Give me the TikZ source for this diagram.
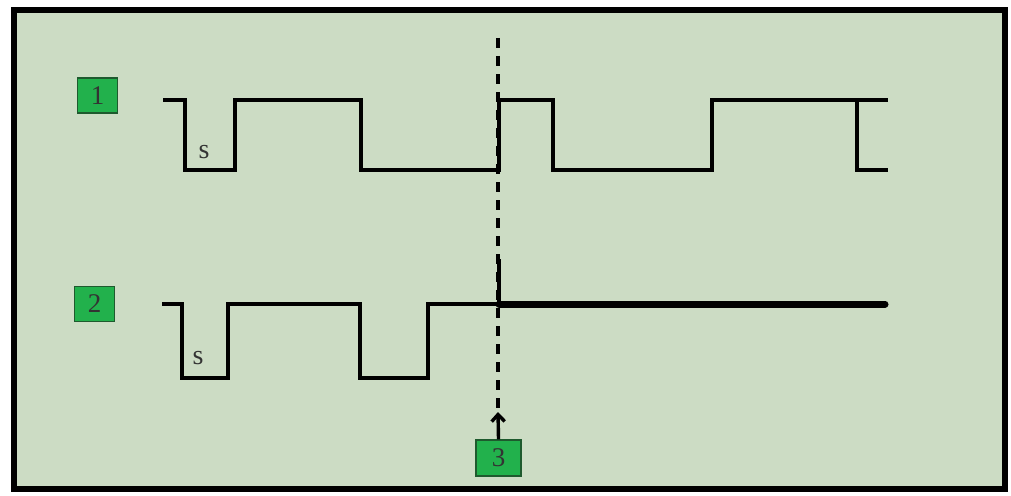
\documentclass[tikz,border=0pt]{standalone}
\usepackage{fontspec}
\setmainfont{Liberation Serif}
\usetikzlibrary{arrows.meta}
\definecolor{bg}{HTML}{CCDCC4}
\definecolor{boxgreen}{HTML}{22B14C}
\definecolor{boxedge}{HTML}{1E5A2E}
\tikzset{
  wave/.style={line width=3.4pt, line join=miter},
  label box/.style={draw=boxedge, line width=1.4pt, fill=boxgreen, minimum width=40pt, minimum height=35pt, inner sep=0pt, font=\fontsize{27}{27}\selectfont, text=black!80},
  slabel/.style={font=\fontsize{28}{28}\selectfont, inner sep=0pt, text=black!80},
  dashline/.style={line width=3.2pt, dash pattern=on 10pt off 8pt},
}
\begin{document}
\begin{tikzpicture}[x=1pt,y=-1pt]
\useasboundingbox (0,0) rectangle (1011,495);
\fill[white] (0,0) rectangle (1011,495);
\draw[line width=5.5pt, fill=bg] (14,10) rectangle (1005,489);
% labels
\node[label box] (b1) at (97.5,95.5) {1};
\node[label box] (b2) at (94.5,304) {2};
\node[label box, minimum width=45pt, minimum height=36pt] (b3) at (498.5,458) {3};
% dashed marker
\coordinate (dtop) at (498,38);
\coordinate (dbot) at (498,412);
\draw[dashline] (dtop) -- (dbot);
\draw[line width=3.4pt, -{Straight Barb[length=7pt,width=13pt]}] (b3.north) -- (dbot);
% waveform 1
\draw[wave] (163,100) -- (185,100) -- (185,170) -- (235,170) -- (235,100) -- (361,100) -- (361,170) -- (499,170) -- (499,100) -- (553,100) -- (553,170) -- (712,170) -- (712,100) -- (888,100);
\draw[wave] (857,100) -- (857,170) -- (888,170);
\node[slabel] (s1) at (204,152) {s};
% waveform 2
\draw[wave] (162,304) -- (182,304) -- (182,378) -- (228,378) -- (228,304) -- (360,304) -- (360,378) -- (428,378) -- (428,304) -- (499,304);
\draw[wave] (499,304) -- (499,259);
\draw[line width=7pt, line cap=round] (499,304) -- (885,304);
\node[slabel] (s2) at (198,358) {s};
\end{tikzpicture}
\end{document}
